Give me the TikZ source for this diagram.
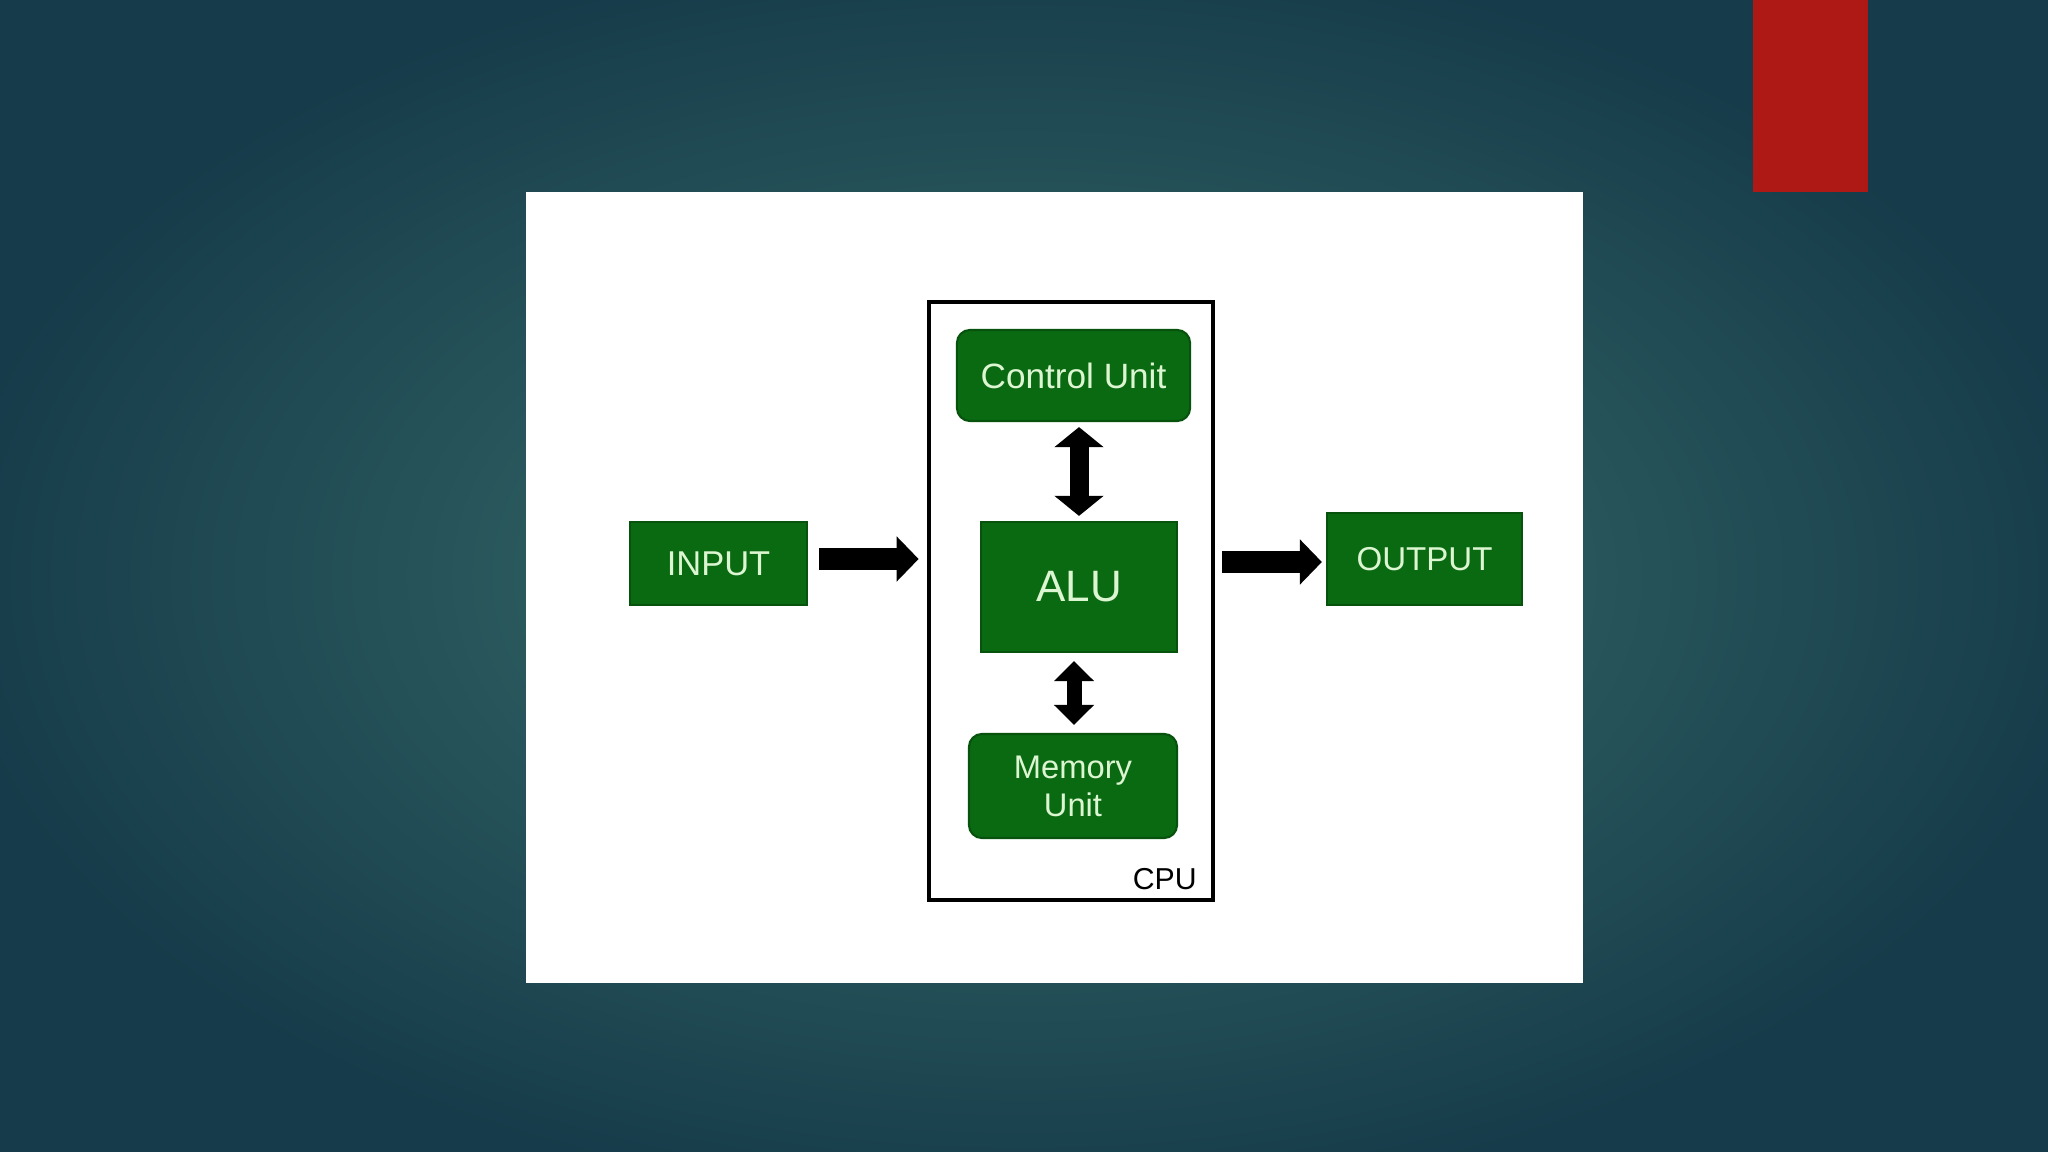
\documentclass[tikz,border=0pt]{standalone}
\usepackage{fontspec}
\setmainfont{Liberation Sans}
\usetikzlibrary{arrows.meta}
\definecolor{bgin}{HTML}{3A716D}
\definecolor{bgout}{HTML}{163B4A}
\definecolor{redbar}{HTML}{AE1916}
\definecolor{boxgreen}{HTML}{0A6A12}
\definecolor{boxedge}{HTML}{07520D}
\definecolor{boxtext}{HTML}{DDF6D2}
\tikzset{
  unitbox/.style={draw=boxedge, line width=0.6pt, fill=boxgreen, text=boxtext, align=center, inner sep=0pt},
  fatarrow/.style={draw=black, line width=0.22cm, -{Triangle[width=0.44cm,length=0.22cm]}},
  fatdouble/.style={draw=black, {Triangle[width=#1,length=0.2cm]}-{Triangle[width=#1,length=0.2cm]}},
}
\begin{document}
\begin{tikzpicture}[x=0.01cm,y=-0.01cm]
\useasboundingbox (0,0) rectangle (2048,1152);
% background
\shade[inner color=bgin, outer color=bgout] (-60,-60) rectangle (2108,1212);
\node[draw=none, fill=redbar, minimum width=1.15cm, minimum height=1.92cm, inner sep=0pt] (bar) at (1810.5,96) {};
% white panel
\node[fill=white, minimum width=10.57cm, minimum height=7.91cm, inner sep=0pt] (panel) at (1054.5,587.5) {};
% CPU box
\node[draw=black, line width=1.3pt, minimum width=2.84cm, minimum height=5.98cm, inner sep=0pt] (cpu) at (1071,601) {};
\node[anchor=south east, inner sep=0pt, font=\fontsize{8.6pt}{10pt}\selectfont] (cpulabel) at ([xshift=-0.18cm,yshift=0.12cm]cpu.south east) {CPU};
% units
\node[unitbox, rounded corners=0.13cm, minimum width=2.33cm, minimum height=0.91cm, font=\fontsize{10pt}{12pt}\selectfont] (cu) at (1073.5,375.5) {Control Unit};
\node[unitbox, minimum width=1.96cm, minimum height=1.30cm, font=\fontsize{12.5pt}{14pt}\selectfont] (alu) at (1079,587) {ALU};
\node[unitbox, rounded corners=0.13cm, minimum width=2.08cm, minimum height=1.04cm, font=\fontsize{9.3pt}{10.8pt}\selectfont] (mem) at (1073,786) {Memory\\Unit};
\node[unitbox, minimum width=1.77cm, minimum height=0.83cm, font=\fontsize{9.8pt}{12pt}\selectfont] (input) at (718.5,563.5) {INPUT};
\node[unitbox, minimum width=1.95cm, minimum height=0.92cm, font=\fontsize{9.4pt}{12pt}\selectfont] (output) at (1424.5,559) {OUTPUT};
% connectors
\draw[fatarrow, shorten <=0.11cm, shorten >=0.08cm] ([yshift=0.045cm]input.east) -- ([yshift=0.045cm]input.east -| cpu.west);
\draw[fatarrow, shorten <=0.07cm, shorten >=0.04cm] ([yshift=-0.03cm]output.west -| cpu.east) -- ([yshift=-0.03cm]output.west);
\draw[fatdouble=0.48cm, line width=0.19cm, shorten <=0.05cm, shorten >=0.05cm] (alu.north |- cu.south) -- (alu.north);
\draw[fatdouble=0.39cm, line width=0.15cm, shorten <=0.08cm, shorten >=0.08cm] ([xshift=0.01cm]mem.north |- alu.south) -- ([xshift=0.01cm]mem.north);
\end{tikzpicture}
\end{document}
